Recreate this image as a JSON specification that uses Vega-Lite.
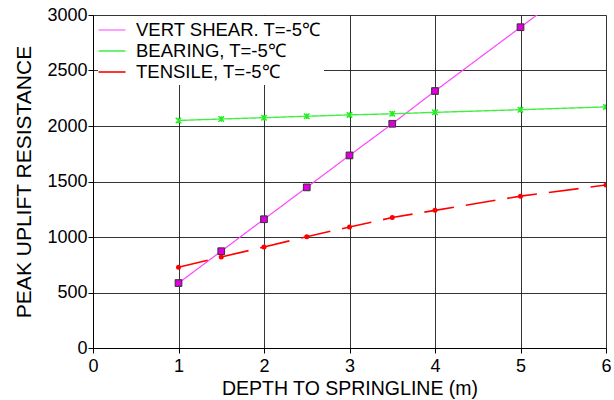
{
  "$schema": "https://vega.github.io/schema/vega-lite/v6.json",
  "width": 513,
  "height": 333,
  "autosize": {"type": "none"},
  "padding": {"left": 93, "top": 15, "right": 8, "bottom": 52},
  "background": "white",
  "config": {
    "font": "Liberation Sans",
    "view": {"stroke": null},
    "axis": {
      "labelFont": "Liberation Sans",
      "titleFont": "Liberation Sans",
      "labelFontSize": 18,
      "titleFontSize": 19.5,
      "titleFontWeight": "normal",
      "labelColor": "#000",
      "titleColor": "#000",
      "domainColor": "#000",
      "tickColor": "#000",
      "gridColor": "#111",
      "gridOpacity": 0.85,
      "tickSize": 5
    },
    "legend": {
      "labelFont": "Liberation Sans",
      "labelFontSize": 18.5,
      "labelColor": "#000"
    }
  },
  "data": {
    "values": [
      {"series": "VERT SHEAR. T=-5℃", "depth": 1, "resistance": 585},
      {"series": "VERT SHEAR. T=-5℃", "depth": 1.5, "resistance": 872},
      {"series": "VERT SHEAR. T=-5℃", "depth": 2, "resistance": 1160},
      {"series": "VERT SHEAR. T=-5℃", "depth": 2.5, "resistance": 1447},
      {"series": "VERT SHEAR. T=-5℃", "depth": 3, "resistance": 1735},
      {"series": "VERT SHEAR. T=-5℃", "depth": 3.5, "resistance": 2020},
      {"series": "VERT SHEAR. T=-5℃", "depth": 4, "resistance": 2315},
      {"series": "VERT SHEAR. T=-5℃", "depth": 5, "resistance": 2890},
      {"series": "VERT SHEAR. T=-5℃", "depth": 6, "resistance": 3465},
      {"series": "BEARING, T=-5℃", "depth": 1, "resistance": 2050},
      {"series": "BEARING, T=-5℃", "depth": 1.5, "resistance": 2063},
      {"series": "BEARING, T=-5℃", "depth": 2, "resistance": 2075},
      {"series": "BEARING, T=-5℃", "depth": 2.5, "resistance": 2088},
      {"series": "BEARING, T=-5℃", "depth": 3, "resistance": 2100},
      {"series": "BEARING, T=-5℃", "depth": 3.5, "resistance": 2110},
      {"series": "BEARING, T=-5℃", "depth": 4, "resistance": 2123},
      {"series": "BEARING, T=-5℃", "depth": 5, "resistance": 2147},
      {"series": "BEARING, T=-5℃", "depth": 6, "resistance": 2172},
      {"series": "TENSILE, T=-5℃", "depth": 1, "resistance": 728},
      {"series": "TENSILE, T=-5℃", "depth": 1.5, "resistance": 820},
      {"series": "TENSILE, T=-5℃", "depth": 2, "resistance": 910},
      {"series": "TENSILE, T=-5℃", "depth": 2.5, "resistance": 1003},
      {"series": "TENSILE, T=-5℃", "depth": 3, "resistance": 1090},
      {"series": "TENSILE, T=-5℃", "depth": 3.5, "resistance": 1175},
      {"series": "TENSILE, T=-5℃", "depth": 4, "resistance": 1240},
      {"series": "TENSILE, T=-5℃", "depth": 5, "resistance": 1368},
      {"series": "TENSILE, T=-5℃", "depth": 6, "resistance": 1468}
    ]
  },
  "encoding": {
    "x": {
      "field": "depth", "type": "quantitative",
      "scale": {"domain": [0, 6], "nice": false},
      "axis": {"values": [0, 1, 2, 3, 4, 5, 6], "title": "DEPTH TO SPRINGLINE (m)", "labelPadding": 4, "titlePadding": 4, "labelFlush": false}
    },
    "y": {
      "field": "resistance", "type": "quantitative",
      "scale": {"domain": [0, 3000], "nice": false},
      "axis": {"values": [0, 500, 1000, 1500, 2000, 2500, 3000], "format": "d", "title": "PEAK UPLIFT RESISTANCE", "titleFontSize": 21, "labelPadding": 1, "titlePadding": 12, "labelFlush": false}
    }
  },
  "layer": [
    {
      "mark": {"type": "line", "clip": true},
      "encoding": {
        "color": {
          "field": "series", "type": "nominal",
          "scale": {"domain": ["VERT SHEAR. T=-5℃", "BEARING, T=-5℃", "TENSILE, T=-5℃"], "range": ["#ff44ff", "#44ee44", "#ff0000"]},
          "legend": {
            "title": null, "orient": "none", "legendX": 5, "legendY": 1, "fillColor": "white", "padding": 3,
            "symbolType": "M-1.35,0H1.35", "symbolSize": 400, "labelOffset": 13, "rowPadding": 0, "labelLimit": 0,
            "encode": {
              "symbols": {"update": {"strokeWidth": {"signal": "datum.value === 'TENSILE, T=-5℃' ? 4.5 : 2"}}}
            }
          }
        },
        "strokeDash": {
          "field": "series", "type": "nominal",
          "scale": {"domain": ["VERT SHEAR. T=-5℃", "BEARING, T=-5℃", "TENSILE, T=-5℃"], "range": [[1, 0], [1, 0], [30, 12]]},
          "legend": null
        },
        "strokeWidth": {
          "field": "series", "type": "nominal",
          "scale": {"domain": ["VERT SHEAR. T=-5℃", "BEARING, T=-5℃", "TENSILE, T=-5℃"], "range": [1.2, 1.6, 4]},
          "legend": null
        }
      }
    },
    {
      "transform": [{"filter": "datum.series === 'VERT SHEAR. T=-5℃'"}],
      "mark": {"type": "point", "shape": "square", "filled": true, "fill": "#dd00dd", "stroke": "#333", "strokeWidth": 1, "size": 45, "opacity": 1, "clip": true},
      "encoding": {}
    },
    {
      "transform": [{"filter": "datum.series === 'BEARING, T=-5℃'"}],
      "mark": {"type": "point", "shape": "M-1,-1L1,1M1,-1L-1,1M0,-1L0,1", "filled": false, "stroke": "#22ee22", "strokeWidth": 1.5, "size": 30, "opacity": 1, "clip": true},
      "encoding": {}
    },
    {
      "transform": [{"filter": "datum.series === 'TENSILE, T=-5℃'"}],
      "mark": {"type": "point", "shape": "circle", "filled": true, "fill": "#ff0000", "size": 25, "opacity": 1, "clip": true},
      "encoding": {}
    }
  ]
}
